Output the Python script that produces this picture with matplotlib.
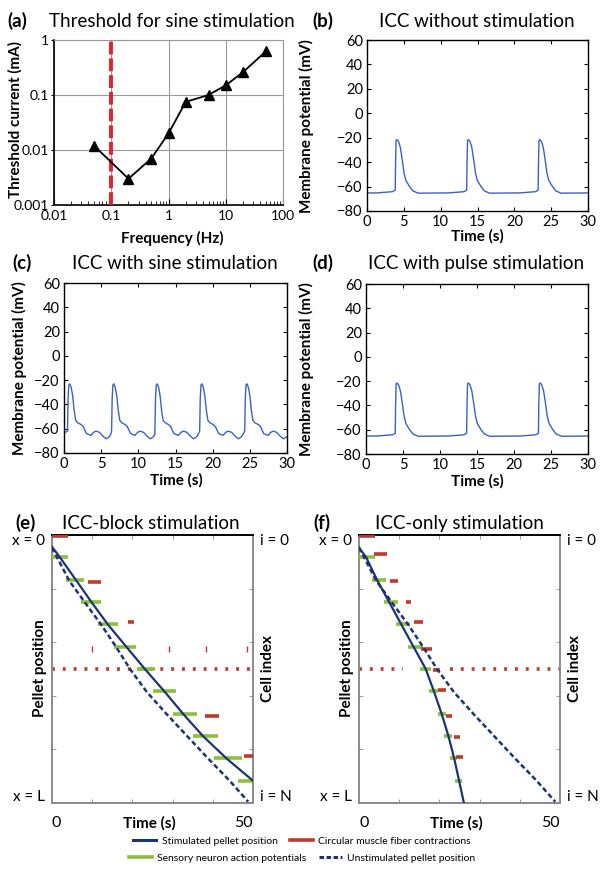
import matplotlib
matplotlib.use('Agg')
import matplotlib.pyplot as plt
from matplotlib.lines import Line2D
from matplotlib.ticker import LogLocator, NullFormatter, FixedLocator

plt.rcParams['font.family'] = ['Lato', 'DejaVu Sans']
plt.rcParams['axes.unicode_minus'] = True

# ---------------- data ----------------
# (a) threshold for sine stimulation
freq_hz = [0.05, 0.2, 0.5, 1, 2, 5, 10, 20, 50]
threshold_ma = [0.012, 0.003, 0.007, 0.02, 0.075, 0.1, 0.15, 0.26, 0.62]
stim_freq_hz = 0.1

# (b)/(d) slow-wave shape (time after onset, mV) and onsets
spike_dt = [-2.5, -0.4, 0, 0.05, 0.12, 0.23, 0.45, 0.7, 0.95, 1.2, 1.45, 1.65, 1.95, 2.4, 3.1]
spike_mv = [-65.2, -64.2, -63, -40, -22.5, -21.5, -23, -28, -38, -49, -55, -57, -60, -63.5, -65.4]
onsets_nostim = [3.83, 13.53, 23.23]
onsets_pulse = [3.95, 13.6, 23.3]
rest_mv = -65.2

# (c) sine-stimulation cycle shape and onsets
sine_dt = [0, 0.08, 0.18, 0.3, 0.5, 0.7, 0.9, 1.1, 1.35, 1.8, 2.1, 2.55, 3.15, 3.5, 3.85,
           4.3, 4.75, 5.2, 5.55, 5.8]
sine_mv = [-62, -35, -24, -23, -26, -33, -45, -53, -55, -56.5, -58, -64, -65.5, -63, -62,
           -63, -66, -68.3, -67, -65]
onsets_sine = [0.47, 6.4, 12.23, 18.25, 24.31]
sine_start_mv = -63.5
sine_end_mv = -66.5

# (e) ICC-block stimulation
sens_y = [0.083, 0.167, 0.25, 0.333, 0.417, 0.5, 0.583, 0.667, 0.75, 0.833, 0.917]
green_e_t0 = [0, 3.4, 7.2, 11.5, 15.5, 21.1, 25.0, 30.0, 35.0, 40.4, 46.3]
green_e_t1 = [4.1, 8.0, 12.1, 16.5, 20.9, 25.6, 30.8, 36.0, 41.2, 47.3, 50]
red_e_y = [0.005, 0.175, 0.326, 0.677, 0.826]
red_e_t0 = [0, 9.0, 18.8, 38.0, 47.8]
red_e_t1 = [4.1, 12.1, 20.4, 41.5, 50]
red_tick_e_t = [10, 29.2, 38.3, 48.4]
red_tick_e_y = 0.425
block_y = 0.5
dotted_e_segments = [(0, 50)]
stim_e_t = [0, 2.0, 6.1, 9.9, 14.0, 18.6, 23.1, 28.1, 32.7, 37.6, 43.5, 50]
stim_e_y = [0.044, 0.084, 0.171, 0.252, 0.336, 0.419, 0.5, 0.586, 0.669, 0.751, 0.835, 0.917]
unstim_t = [0, 4.3, 8.2, 12.3, 16.0, 19.4, 23.6, 28.5, 33.6, 38.9, 44.2, 48.8]
unstim_y = [0.047, 0.171, 0.252, 0.336, 0.419, 0.5, 0.586, 0.668, 0.75, 0.835, 0.917, 0.995]

# (f) ICC-only stimulation
green_f_t0 = [0, 3.3, 6.3, 9.2, 12.3, 15.2, 17.4, 19.6, 21.2, 22.7, 24.0]
green_f_t1 = [4.1, 6.6, 9.8, 12.7, 16.0, 17.9, 19.7, 21.6, 23.2, 24.4, 25.7]
red_f_y = [0.005, 0.072, 0.172, 0.25, 0.325, 0.427, 0.502, 0.577, 0.677, 0.753, 0.828]
red_f_t0 = [0, 3.7, 7.7, 11.7, 13.7, 15.4, 18.3, 19.6, 21.6, 23.7, 24.2]
red_f_t1 = [4.1, 7.0, 9.8, 12.9, 15.9, 18.1, 20.1, 21.6, 23.2, 25.1, 25.8]
dotted_f_segments = [(0, 10.9), (22.6, 50)]
stim_f_t = [0, 1.8, 4.5, 7.5, 10.6, 13.6, 16.6, 18.7, 20.6, 22.3, 23.7, 24.9, 26.1]
stim_f_y = [0.047, 0.084, 0.168, 0.25, 0.336, 0.418, 0.5, 0.586, 0.669, 0.753, 0.835, 0.917, 1.0]

# ---------------- styles ----------------
BLUE = '#3a62c4'
NAVY = '#1b3474'
RED = '#c0392b'
GREEN = '#8cc03c'
GRAY = '#8a8a8a'

W, H = 604, 873
fig = plt.figure(figsize=(W / 100, H / 100), dpi=100)


def box(l, t, r, b):
    return [l / W, 1 - b / H, (r - l) / W, (b - t) / H]


def ftext(x, y, s, **kw):
    fig.text(x / W, 1 - y / H, s, **kw)


def build_trace(onsets, dts, mvs, start_mv, end_mv, t_end=30):
    ts, vs = [0], [start_mv]
    for k, o in enumerate(onsets):
        nxt = onsets[k + 1] if k + 1 < len(onsets) else t_end
        for d, v in zip(dts, mvs):
            if ts[-1] < o + d < nxt:
                ts.append(o + d)
                vs.append(v)
    ts.append(t_end)
    vs.append(end_mv)
    return ts, vs


# ---------------- (a) ----------------
ax = fig.add_axes(box(54, 40, 283, 205))
ax.set_xscale('log')
ax.set_yscale('log')
ax.set_xlim(0.01, 100)
ax.set_ylim(0.001, 1)
ax.grid(True, which='major', color='#9a9a9a', lw=0.8)
ax.axvline(stim_freq_hz, color='#e8202a', lw=2.8, ls=(0, (3.3, 1.0)), zorder=3)
ax.plot(freq_hz, threshold_ma, color='black', lw=1.3, marker='^', ms=6.5, zorder=4)
ax.set_xticks([0.01, 0.1, 1, 10, 100])
ax.set_xticklabels(['0.01', '0.1', '1', '10', '100'])
ax.set_yticks([0.001, 0.01, 0.1, 1])
ax.set_yticklabels(['0.001', '0.01', '0.1', '1'])
ax.xaxis.set_minor_locator(LogLocator(base=10, subs=range(2, 10)))
ax.xaxis.set_minor_formatter(NullFormatter())
ax.yaxis.set_minor_locator(FixedLocator([]))
ax.tick_params(axis='x', which='major', direction='in', length=4, labelsize=10)
ax.tick_params(axis='x', which='minor', direction='in', length=3)
ax.tick_params(axis='y', which='major', direction='out', length=2, labelsize=10, pad=1.5)
for s in ['top', 'right']:
    ax.spines[s].set_color('#9a9a9a')
for s in ['left', 'bottom']:
    ax.spines[s].set_color('black')
    ax.spines[s].set_linewidth(1.2)
ftext(172, 238, 'Frequency (Hz)', ha='center', va='center', fontsize=11, fontweight='bold')
ftext(15, 120, 'Threshold current (mA)', ha='center', va='center', rotation=90,
      fontsize=11, fontweight='bold')
ftext(7, 27, '(a)', ha='left', va='baseline', fontsize=13.5, fontweight='bold')
ftext(172, 27, 'Threshold for sine stimulation', ha='center', va='baseline', fontsize=13.5)


def mem_axes(rect, t, v):
    a = fig.add_axes(rect)
    a.plot(t, v, color=BLUE, lw=1.0)
    a.set_xlim(0, 30)
    a.set_ylim(-80, 60)
    a.set_xticks(range(0, 31, 5))
    a.set_yticks(range(-80, 61, 20))
    a.tick_params(direction='in', length=3, top=True, right=True, labelsize=10.5, pad=3)
    for s in a.spines.values():
        s.set_linewidth(1.0)
    return a


# ---------------- (b) ----------------
tb, vb = build_trace(onsets_nostim, spike_dt, spike_mv, rest_mv, rest_mv)
mem_axes(box(367, 40, 588, 211), tb, vb)
ftext(477, 236, 'Time (s)', ha='center', va='center', fontsize=11, fontweight='bold')
ftext(306, 126, 'Membrane potential (mV)', ha='center', va='center', rotation=90,
      fontsize=11, fontweight='bold')
ftext(312, 27, '(b)', ha='left', va='baseline', fontsize=13.5, fontweight='bold')
ftext(477, 27, 'ICC without stimulation', ha='center', va='baseline', fontsize=13.5)

# ---------------- (c) ----------------
tc, vc = build_trace(onsets_sine, sine_dt, sine_mv, sine_start_mv, sine_end_mv)
mem_axes(box(64, 283, 287, 453), tc, vc)
ftext(176, 480, 'Time (s)', ha='center', va='center', fontsize=11, fontweight='bold')
ftext(19, 368, 'Membrane potential (mV)', ha='center', va='center', rotation=90,
      fontsize=11, fontweight='bold')
ftext(12, 269, '(c)', ha='left', va='baseline', fontsize=13.5, fontweight='bold')
ftext(175, 269, 'ICC with sine stimulation', ha='center', va='baseline', fontsize=13.5)

# ---------------- (d) ----------------
td, vd = build_trace(onsets_pulse, spike_dt, spike_mv, rest_mv, rest_mv)
mem_axes(box(366, 284, 588, 454), td, vd)
ftext(477, 481, 'Time (s)', ha='center', va='center', fontsize=11, fontweight='bold')
ftext(306, 369, 'Membrane potential (mV)', ha='center', va='center', rotation=90,
      fontsize=11, fontweight='bold')
ftext(312, 269, '(d)', ha='left', va='baseline', fontsize=13.5, fontweight='bold')
ftext(476, 269, 'ICC with pulse stimulation', ha='center', va='baseline', fontsize=13.5)


# ---------------- (e)/(f) ----------------
def transport_axes(rect, g_t0, g_t1, r_y, r_t0, r_t1, dotted, s_t, s_y, ticks=None):
    a = fig.add_axes(rect)
    a.set_xlim(0, 50)
    a.set_ylim(1, 0)
    for t0, t1 in dotted:
        a.hlines(block_y, t0, t1, color=RED, lw=2.6, linestyles=[(0, (0.8, 2.2))], zorder=2)
    if ticks is not None:
        a.plot(ticks, [red_tick_e_y] * len(ticks), ls='none', marker='|', ms=4, mew=1.0,
               color=RED, zorder=2)
    a.hlines(sens_y, g_t0, g_t1, color=GREEN, lw=2.6, zorder=3)
    a.hlines(r_y, r_t0, r_t1, color=RED, lw=2.6, zorder=3)
    a.plot(unstim_t, unstim_y, color=NAVY, lw=1.8, ls=(0, (2.0, 1.2)), zorder=4)
    a.plot(s_t, s_y, color=NAVY, lw=1.6, zorder=5)
    a.set_xticks([])
    a.set_yticks([])
    a.xaxis.set_minor_locator(FixedLocator([10, 20, 30, 40]))
    a.yaxis.set_minor_locator(FixedLocator([0.2, 0.4, 0.6, 0.8]))
    a.tick_params(which='minor', direction='in', length=3, color=GRAY, top=True, right=True)
    for s in ['left', 'bottom', 'right']:
        a.spines[s].set_color(GRAY)
        a.spines[s].set_linewidth(1.4)
    a.spines['top'].set_color('black')
    a.spines['top'].set_linewidth(1.4)
    return a


ae = transport_axes(box(52, 535, 253, 803), green_e_t0, green_e_t1, red_e_y, red_e_t0,
                    red_e_t1, dotted_e_segments, stim_e_t, stim_e_y, ticks=red_tick_e_t)
af = transport_axes(box(359, 535, 560, 803), green_f_t0, green_f_t1, red_f_y, red_f_t0,
                    red_f_t1, dotted_f_segments, stim_f_t, stim_f_y)

for (l, r, tx, lab, tcen, title) in [(52, 253, 15, '(e)', 151, 'ICC-block stimulation'),
                                      (359, 560, 313, '(f)', 459, 'ICC-only stimulation')]:
    ftext(l, 823, '0', ha='left', va='center', fontsize=11.5)
    ftext(r, 823, '50', ha='right', va='center', fontsize=11.5)
    ftext((l + r) / 2 - 3, 823, 'Time (s)', ha='center', va='center', fontsize=11,
          fontweight='bold')
    ftext(l - 7, 541, 'x = 0', ha='right', va='center', fontsize=11)
    ftext(l - 7, 797, 'x = L', ha='right', va='center', fontsize=11)
    ftext(r + 7, 541, 'i = 0', ha='left', va='center', fontsize=11)
    ftext(r + 7, 797, 'i = N', ha='left', va='center', fontsize=11)
    ftext(l - 12, 668, 'Pellet position', ha='center', va='center', rotation=90,
          fontsize=11, fontweight='bold')
    ftext(r + 15, 668, 'Cell index', ha='center', va='center', rotation=90,
          fontsize=11, fontweight='bold')
    ftext(tx, 529, lab, ha='left', va='baseline', fontsize=13.5, fontweight='bold')
    ftext(tcen, 529, title, ha='center', va='baseline', fontsize=13.5)

# ---------------- legend ----------------
h_stim = Line2D([], [], color=NAVY, lw=2.2)
h_red = Line2D([], [], color=RED, lw=2.6)
h_green = Line2D([], [], color=GREEN, lw=2.6)
h_unstim = Line2D([], [], color=NAVY, lw=2.2, ls=(0, (1.5, 0.8)))
kw = dict(loc='center', ncol=2, frameon=False, fontsize=7.5, handlelength=2.2,
          handletextpad=0.5, columnspacing=1.2, borderpad=0, borderaxespad=0)
fig.legend([h_stim, h_red], ['Stimulated pellet position', 'Circular muscle fiber contractions'],
           bbox_to_anchor=(302 / W, 1 - 841 / H), **kw)
fig.legend([h_green, h_unstim], ['Sensory neuron action potentials', 'Unstimulated pellet position'],
           bbox_to_anchor=(302 / W, 1 - 858 / H), **kw)

fig.savefig('out.png', dpi=100)
